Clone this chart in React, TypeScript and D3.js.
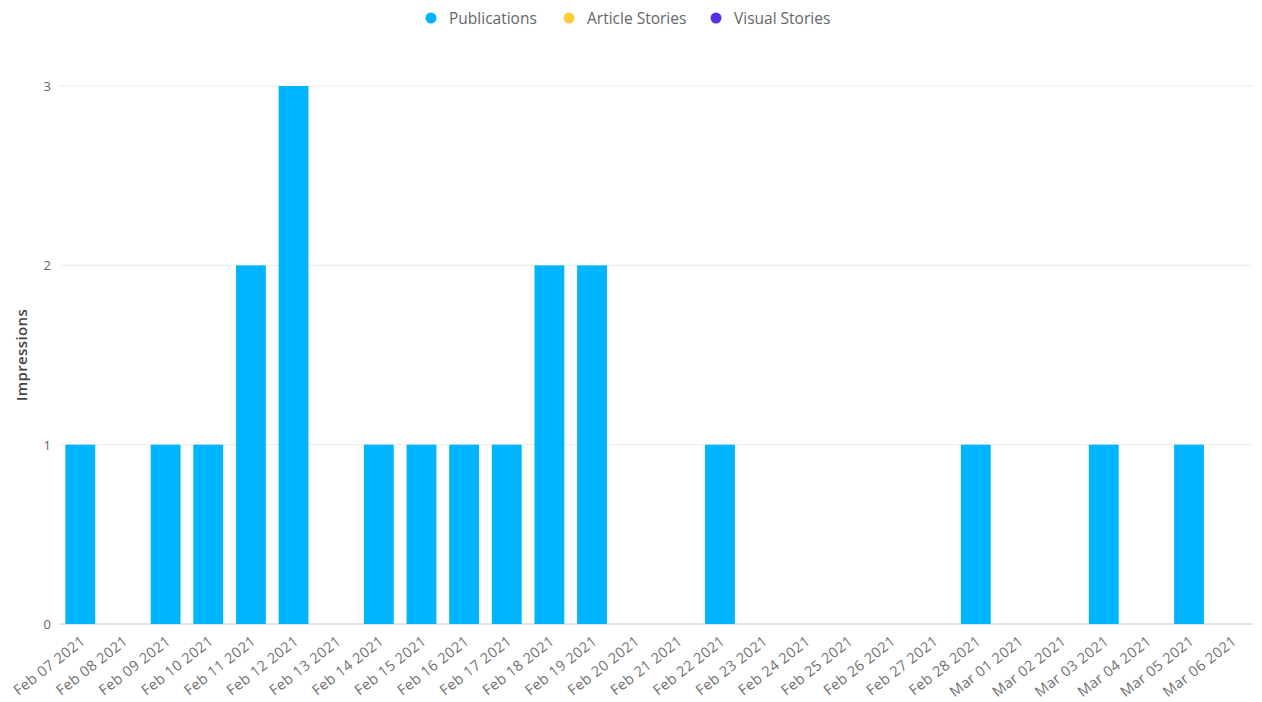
import React from "react";
import * as d3 from "d3";

const dates = [
  "Feb 07 2021", "Feb 08 2021", "Feb 09 2021", "Feb 10 2021", "Feb 11 2021", "Feb 12 2021",
  "Feb 13 2021", "Feb 14 2021", "Feb 15 2021", "Feb 16 2021", "Feb 17 2021", "Feb 18 2021",
  "Feb 19 2021", "Feb 20 2021", "Feb 21 2021", "Feb 22 2021", "Feb 23 2021", "Feb 24 2021",
  "Feb 25 2021", "Feb 26 2021", "Feb 27 2021", "Feb 28 2021", "Mar 01 2021", "Mar 02 2021",
  "Mar 03 2021", "Mar 04 2021", "Mar 05 2021", "Mar 06 2021",
];

const publications = [1, 0, 1, 1, 2, 3, 0, 1, 1, 1, 1, 2, 2, 0, 0, 1, 0, 0, 0, 0, 0, 1, 0, 0, 1, 0, 1, 0];
const articleStories = [0, 0, 0, 0, 0, 0, 0, 0, 0, 0, 0, 0, 0, 0, 0, 0, 0, 0, 0, 0, 0, 0, 0, 0, 0, 0, 0, 0];
const visualStories = [0, 0, 0, 0, 0, 0, 0, 0, 0, 0, 0, 0, 0, 0, 0, 0, 0, 0, 0, 0, 0, 0, 0, 0, 0, 0, 0, 0];

const seriesNames = ["Publications", "Article Stories", "Visual Stories"];
const seriesColors = ["#00b5ff", "#ffcd3c", "#5a2ee6"];
const yTicks = [0, 1, 2, 3];

const W = 1262;
const H = 702;
const FONT = "'Open Sans', sans-serif";

export default function App() {
  const left = 59;
  const right = 1253;
  const top = 86;
  const bottom = 624;

  const x = d3.scaleBand<string>().domain(dates).range([left, right]).paddingInner(0.3).paddingOuter(0.15);
  const y = d3.scaleLinear().domain([0, 3]).range([bottom, top]);

  const stacked = dates.map((d, i) => ({
    date: d,
    values: [publications[i], articleStories[i], visualStories[i]],
  }));

  const legendX = [431, 569, 716];

  return (
    <svg width={W} height={H} style={{ position: "absolute", left: 0, top: 0, background: "#fff" }} fontFamily={FONT}>
      {/* legend */}
      {seriesNames.map((n, i) => (
        <g key={n}>
          <circle cx={legendX[i]} cy={18} r={5.5} fill={seriesColors[i]} />
          <text x={legendX[i] + 18} y={23.5} fontSize={15.5} fill="#666">{n}</text>
        </g>
      ))}

      {/* grid lines */}
      {yTicks.map((t) => (
        <g key={t}>
          <line x1={left} x2={right} y1={y(t)} y2={y(t)} stroke={t === 0 ? "#c8c8c8" : "#ececec"} strokeWidth={1} />
          <text x={51} y={y(t) + 5} textAnchor="end" fontSize={13} fill="#666">{t}</text>
        </g>
      ))}

      {/* y axis title */}
      <text transform={`translate(27, 355) rotate(-90)`} textAnchor="middle" fontSize={15} fontWeight={600} letterSpacing={0.4} fill="#444">
        Impressions
      </text>

      {/* bars, stacked by series */}
      {stacked.map((row) => {
        let acc = 0;
        return row.values.map((v, si) => {
          const y0 = acc;
          acc += v;
          if (v <= 0) return null;
          return (
            <rect
              key={row.date + si}
              x={x(row.date)!}
              width={x.bandwidth()}
              y={y(acc)}
              height={y(y0) - y(acc)}
              fill={seriesColors[si]}
            />
          );
        });
      })}

      {/* x tick labels */}
      {dates.map((d) => {
        const cx = x(d)! + x.bandwidth() / 2;
        return (
          <text key={d} transform={`translate(${cx + 6}, ${bottom + 19}) rotate(-38)`} textAnchor="end" fontSize={14.5} letterSpacing={0.4} fill="#707070">
            {d}
          </text>
        );
      })}
    </svg>
  );
}
